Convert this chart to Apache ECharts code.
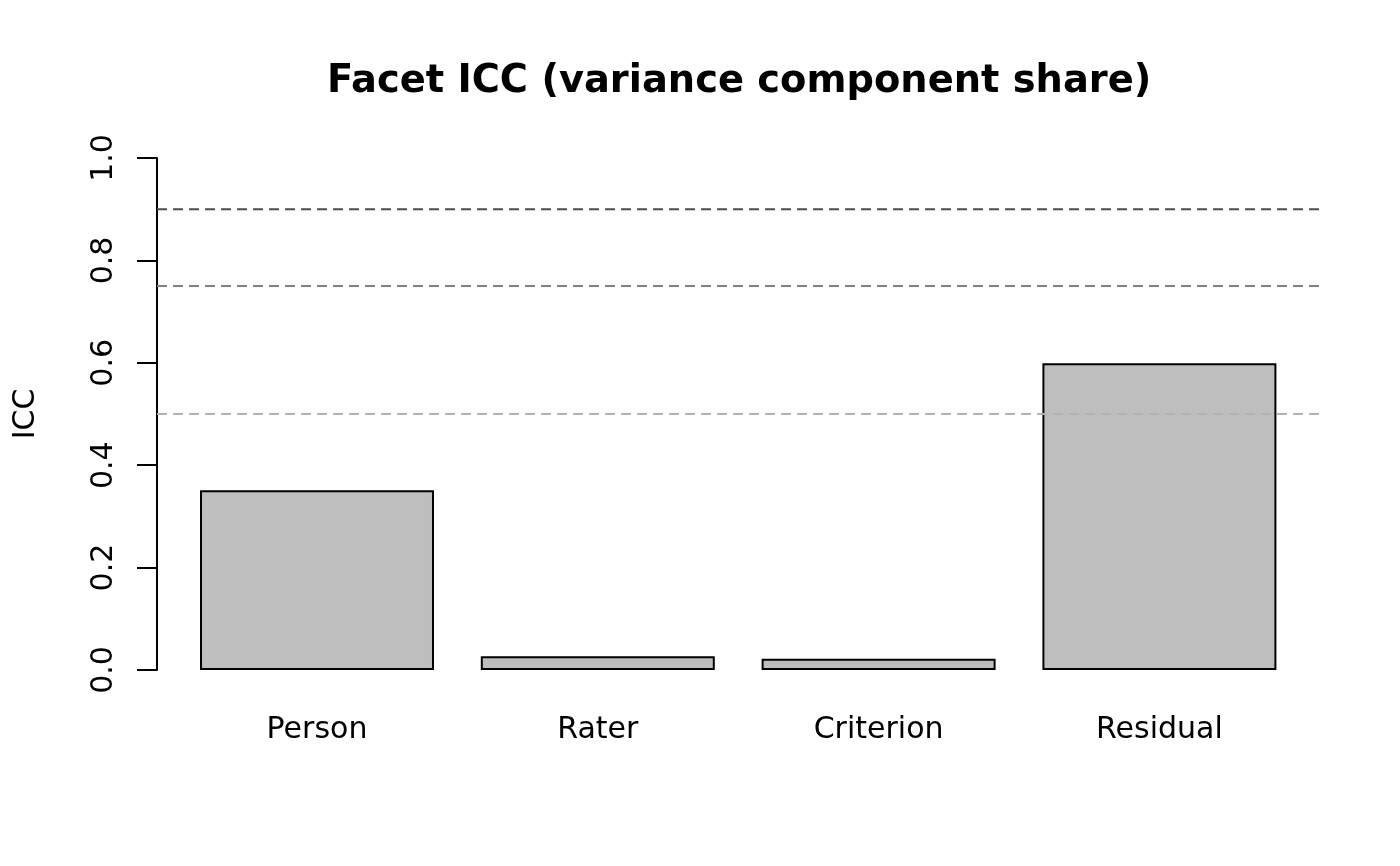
<!DOCTYPE html>
<html>
<head>
<meta charset="utf-8">
<script src="https://cdn.jsdelivr.net/npm/echarts@6/dist/echarts.min.js"></script>
<style>
html,body{margin:0;padding:0;background:#fff;}
#c{width:1400px;height:866px;}
</style>
</head>
<body>
<div id="c"></div>
<script>
const categories = ['Person', 'Rater', 'Criterion', 'Residual'];
const icc = [0.351, 0.027, 0.022, 0.599];
const thresholds = [0.9, 0.75, 0.5];
const thresholdColors = ['#4d4d4d', '#7f7f7f', '#b3b3b3'];
const yTicks = [0, 0.2, 0.4, 0.6, 0.8, 1.0];

const FONT = 'DejaVu Sans';
const chart = echarts.init(document.getElementById('c'), null, {renderer: 'canvas'});

const lineSeries = thresholds.map((t, i) => ({
  type: 'line',
  xAxisIndex: 1,
  yAxisIndex: 1,
  data: [[0, t], [1, t]],
  symbol: 'none',
  silent: true,
  z: 5,
  lineStyle: {color: thresholdColors[i], width: 2, type: [10, 6]}
}));

chart.setOption({
  backgroundColor: '#ffffff',
  animation: false,
  title: {
    text: 'Facet ICC (variance component share)',
    left: 327,
    top: 63,
    padding: 0,
    textStyle: {fontFamily: FONT, fontWeight: 'bold', fontSize: 38.4, color: '#000'}
  },
  grid: [
    {left: 176.6, right: 100.2, top: 158, bottom: 196, containLabel: false},
    {left: 157, right: 80, top: 158, bottom: 196, containLabel: false}
  ],
  xAxis: [
    {
      type: 'category', gridIndex: 0, data: categories,
      axisLine: {show: false}, axisTick: {show: false},
      axisLabel: {fontFamily: FONT, fontSize: 30, color: '#000', margin: 45}
    },
    {type: 'value', gridIndex: 1, min: 0, max: 1, show: false}
  ],
  yAxis: [
    {type: 'value', gridIndex: 0, min: 0, max: 1, show: false},
    {
      type: 'value', gridIndex: 1, min: 0, max: 1, interval: 0.2,
      name: 'ICC', nameLocation: 'middle', nameRotate: 90, nameGap: 116,
      nameTextStyle: {fontFamily: FONT, fontSize: 30, color: '#000'},
      axisLine: {show: true, lineStyle: {color: '#000', width: 2}},
      axisTick: {show: true, length: 20, lineStyle: {color: '#000', width: 2}},
      splitLine: {show: false},
      axisLabel: {
        fontFamily: FONT, fontSize: 30, color: '#000', rotate: 90, margin: 38,
        formatter: v => v.toFixed(1)
      }
    }
  ],
  series: [
    {
      type: 'bar', xAxisIndex: 0, yAxisIndex: 0,
      data: icc, barWidth: '83.33%', z: 2,
      itemStyle: {color: '#bebebe', borderColor: '#000', borderWidth: 2}
    }
  ].concat(lineSeries)
});
</script>
</body>
</html>
